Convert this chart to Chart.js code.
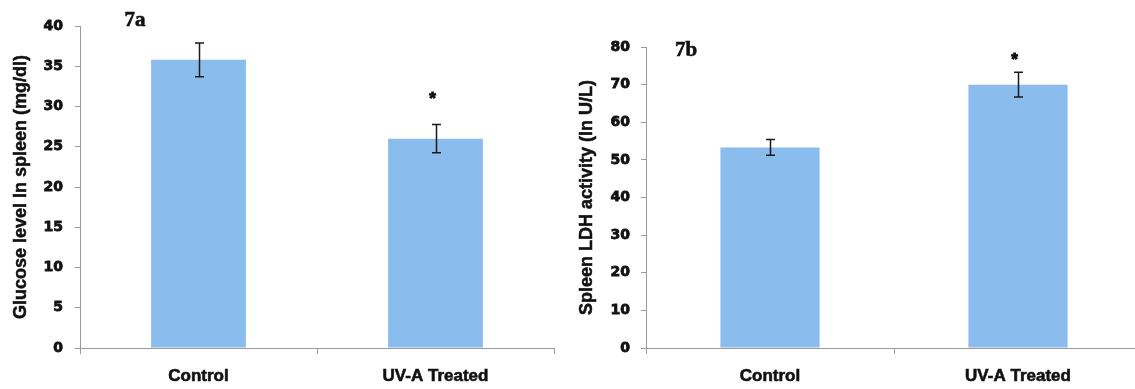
<!DOCTYPE html>
<html>
<head>
<meta charset="utf-8">
<script src="https://cdn.jsdelivr.net/npm/chart.js@4.4.1/dist/chart.umd.min.js"></script>
<style>
  html, body { margin: 0; padding: 0; background: #fff; overflow: hidden; width: 1135px; height: 389px; }
  canvas { position: absolute; top: 0; }
  #glucose { left: 0; }
  #ldh { left: 560px; }
</style>
</head>
<body>
<canvas id="glucose" width="560" height="389"></canvas>
<canvas id="ldh" width="590" height="389"></canvas>
<script>
// Groups on the x axis
const categories = ['Control', 'UV-A Treated'];

// 7a: glucose in spleen (mg/dl), mean and error
const glucoseMean = [35.8, 26.0];
const glucoseErr = [2.1, 1.75];
const glucoseSignificant = [false, true];
const glucoseTicks = { min: 0, max: 40, step: 5 };

// 7b: spleen LDH activity (U/L), mean and error
const ldhMean = [53.3, 70.0];
const ldhErr = [2.1, 3.3];
const ldhSignificant = [false, true];
const ldhTicks = { min: 0, max: 80, step: 10 };

const BAR_COLOR = '#8ABCEE';
const AXIS_COLOR = '#9a9a9a';
const SANS = '"Liberation Sans", Arial, sans-serif';

// Error bars with caps, plus an asterisk over significant groups
const errorBarPlugin = {
  id: 'errorBars',
  afterDatasetsDraw(chart, args, opts) {
    const { ctx } = chart;
    const y = chart.scales.y;
    const meta = chart.getDatasetMeta(0);
    ctx.save();
    opts.means.forEach((m, i) => {
      const x = Math.round(meta.data[i].x) + 0.5;
      const yt = y.getPixelForValue(m + opts.errs[i]);
      const yb = y.getPixelForValue(m - opts.errs[i]);
      ctx.strokeStyle = '#1a1a1a';
      ctx.lineWidth = 1.5;
      ctx.beginPath();
      ctx.moveTo(x, yt); ctx.lineTo(x, yb);
      ctx.moveTo(x - 4.5, yt); ctx.lineTo(x + 4.5, yt);
      ctx.moveTo(x - 4.5, yb); ctx.lineTo(x + 4.5, yb);
      ctx.stroke();
      if (opts.significant[i]) {
        ctx.fillStyle = '#111';
        ctx.strokeStyle = '#111';
        ctx.lineWidth = 1;
        ctx.font = 'bold 17px ' + SANS;
        ctx.textAlign = 'center';
        ctx.textBaseline = 'middle';
        ctx.fillText('*', x - 4, yt - opts.starGap);
        ctx.strokeText('*', x - 4, yt - opts.starGap);
      }
    });
    ctx.restore();
  }
};

// Panel letter ("7a", "7b") and the rotated y-axis title
const annotationPlugin = {
  id: 'panelText',
  afterDraw(chart, args, opts) {
    const { ctx, chartArea } = chart;
    ctx.save();
    ctx.fillStyle = '#111';
    ctx.strokeStyle = '#111';
    ctx.lineWidth = 0.6;
    ctx.font = 'bold 21px "Liberation Serif", "Times New Roman", serif';
    ctx.textAlign = 'center';
    ctx.textBaseline = 'alphabetic';
    ctx.fillText(opts.label, chartArea.left + opts.labelDx, opts.labelBaseline);
    ctx.strokeText(opts.label, chartArea.left + opts.labelDx, opts.labelBaseline);

    // y-axis title, centred on the plot area
    ctx.translate(opts.titleX, (chartArea.top + chartArea.bottom) / 2);
    ctx.rotate(-Math.PI / 2);
    ctx.font = 'bold 18px ' + SANS;
    ctx.textBaseline = 'middle';
    ctx.lineWidth = 0.5;
    ctx.fillText(opts.title, 0, 0);
    ctx.strokeText(opts.title, 0, 0);
    ctx.restore();
  }
};

function makeChart(id, means, errs, significant, ticks, title, layout) {
  return new Chart(document.getElementById(id), {
    type: 'bar',
    data: {
      labels: categories,
      datasets: [{
        data: means,
        backgroundColor: BAR_COLOR,
        borderWidth: 0,
        barPercentage: 0.4,
        categoryPercentage: 1.0
      }]
    },
    options: {
      responsive: false,
      animation: false,
      events: [],
      layout: { padding: { top: layout.top, right: layout.right, left: 0, bottom: 0 } },
      plugins: {
        legend: { display: false },
        tooltip: { enabled: false },
        errorBars: { means, errs, significant, starGap: layout.starGap },
        panelText: {
          label: layout.label, labelDx: layout.labelDx, labelBaseline: layout.labelBaseline,
          title: title, titleX: layout.titleX
        }
      },
      scales: {
        x: {
          type: 'category',
          offset: true,
          afterFit(s) { s.height = 41; },
          grid: { offset: true, drawOnChartArea: false, drawTicks: true, tickLength: 6, color: AXIS_COLOR },
          border: { color: AXIS_COLOR, width: 1 },
          ticks: {
            color: '#111',
            padding: 12,
            maxRotation: 0,
            textStrokeColor: '#111',
            textStrokeWidth: 0.6,
            font: { family: SANS, size: 17, weight: 'bold' }
          }
        },
        y: {
          min: ticks.min,
          max: ticks.max,
          afterFit(s) { s.width = layout.yWidth; },
          grid: { drawOnChartArea: false, drawTicks: true, tickLength: 5, color: AXIS_COLOR },
          border: { color: AXIS_COLOR, width: 1 },
          ticks: {
            stepSize: ticks.step,
            color: '#111',
            padding: layout.tickPad,
            textStrokeColor: '#111',
            textStrokeWidth: 0.8,
            font: { family: '"DejaVu Sans", sans-serif', size: 14, weight: 'bold' }
          }
        }
      }
    },
    plugins: [errorBarPlugin, annotationPlugin]
  });
}

function drawAll() {
  makeChart('glucose', glucoseMean, glucoseErr, glucoseSignificant, glucoseTicks,
    'Glucose level In spleen (mg/dl)',
    { top: 26, right: 6, yWidth: 80, tickPad: 12, titleX: 21, starGap: 25,
      label: '7a', labelDx: 55, labelBaseline: 26 });

  makeChart('ldh', ldhMean, ldhErr, ldhSignificant, ldhTicks,
    'Spleen LDH activity (In U/L)',
    { top: 47, right: 8, yWidth: 86, tickPad: 11, titleX: 27, starGap: 12,
      label: '7b', labelDx: 40, labelBaseline: 56 });
}

// Make sure the named fonts are ready before drawing on canvas
const fontsReady = document.fonts && document.fonts.load
  ? Promise.all([
      document.fonts.load('bold 18px "Liberation Sans"'),
      document.fonts.load('bold 14px "DejaVu Sans"'),
      document.fonts.load('bold 21px "Liberation Serif"')
    ]).catch(() => null)
  : Promise.resolve();
fontsReady.then(drawAll);
</script>
</body>
</html>
